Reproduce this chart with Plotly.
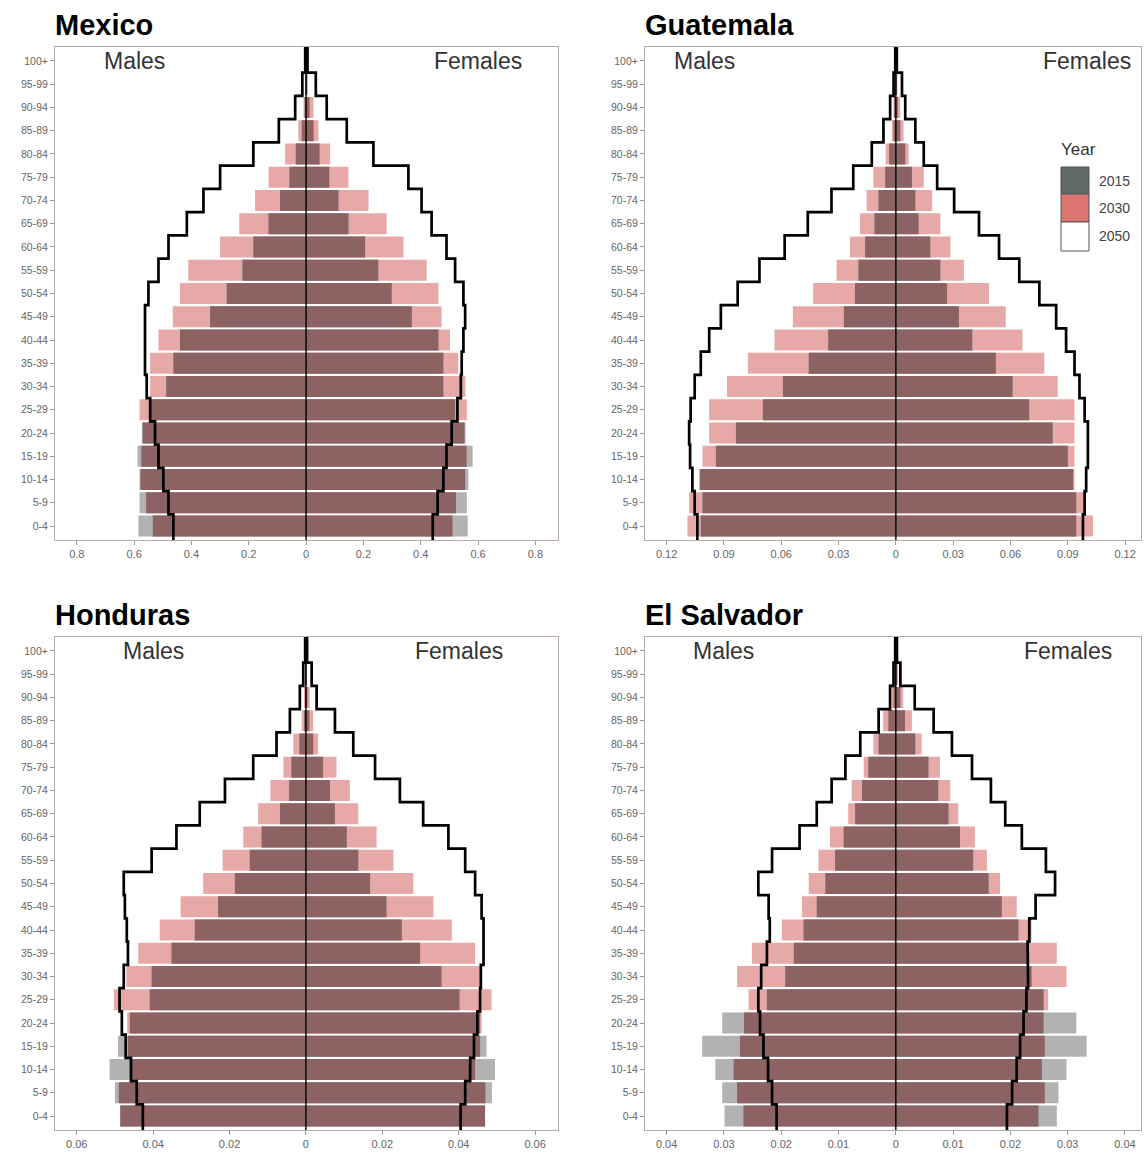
import plotly.graph_objects as go

# ---------------- data ----------------
AGE = ["0-4", "5-9", "10-14", "15-19", "20-24", "25-29", "30-34", "35-39", "40-44",
       "45-49", "50-54", "55-59", "60-64", "65-69", "70-74", "75-79", "80-84",
       "85-89", "90-94", "95-99", "100+"]

COUNTRIES = ["Mexico", "Guatemala", "Honduras", "El Salvador"]
YEARS = ["2015", "2030", "2050"]

# Mexico
MEX_M15 = [0.585, 0.581, 0.581, 0.588, 0.573, 0.547, 0.488, 0.463, 0.440, 0.335, 0.277, 0.222, 0.184, 0.131, 0.091, 0.058, 0.036, 0.015, 0.005, 0.002, 0.001]
MEX_M30 = [0.535, 0.558, 0.578, 0.575, 0.570, 0.581, 0.544, 0.544, 0.515, 0.465, 0.440, 0.411, 0.300, 0.233, 0.178, 0.131, 0.073, 0.027, 0.009, 0.004, 0.001]
MEX_M50 = [0.463, 0.480, 0.498, 0.515, 0.527, 0.544, 0.556, 0.562, 0.564, 0.562, 0.550, 0.515, 0.480, 0.416, 0.358, 0.300, 0.184, 0.095, 0.038, 0.013, 0.003]
MEX_F15 = [0.564, 0.561, 0.566, 0.581, 0.556, 0.520, 0.479, 0.479, 0.462, 0.369, 0.299, 0.252, 0.206, 0.148, 0.113, 0.081, 0.047, 0.026, 0.012, 0.002, 0.001]
MEX_F30 = [0.511, 0.523, 0.555, 0.560, 0.553, 0.561, 0.556, 0.531, 0.502, 0.473, 0.462, 0.421, 0.340, 0.281, 0.218, 0.148, 0.084, 0.043, 0.026, 0.006, 0.001]
MEX_F50 = [0.442, 0.459, 0.479, 0.490, 0.508, 0.528, 0.540, 0.543, 0.549, 0.555, 0.549, 0.520, 0.490, 0.438, 0.403, 0.357, 0.235, 0.142, 0.072, 0.034, 0.005]

# Guatemala
GTM_M15 = [0.1021, 0.1012, 0.1025, 0.0942, 0.0837, 0.0696, 0.0591, 0.0456, 0.0354, 0.0272, 0.0214, 0.0196, 0.0161, 0.0112, 0.0091, 0.0056, 0.0035, 0.0012, 0.0008, 0.0003, 0.0001]
GTM_M30 = [0.1091, 0.1082, 0.1030, 0.1012, 0.0977, 0.0977, 0.0884, 0.0775, 0.0635, 0.0539, 0.0433, 0.0310, 0.0240, 0.0188, 0.0153, 0.0118, 0.0053, 0.0021, 0.0012, 0.0004, 0.0001]
GTM_M50 = [0.1039, 0.1053, 0.1065, 0.1077, 0.1082, 0.1074, 0.1053, 0.1021, 0.0977, 0.0916, 0.0828, 0.0714, 0.0582, 0.0461, 0.0337, 0.0223, 0.0126, 0.0065, 0.0030, 0.0012, 0.0003]
GTM_F15 = [0.0944, 0.0944, 0.0928, 0.0900, 0.0821, 0.0698, 0.0611, 0.0523, 0.0400, 0.0330, 0.0268, 0.0233, 0.0180, 0.0119, 0.0102, 0.0084, 0.0049, 0.0023, 0.0010, 0.0004, 0.0001]
GTM_F30 = [0.1032, 0.0995, 0.0935, 0.0935, 0.0935, 0.0935, 0.0847, 0.0777, 0.0663, 0.0575, 0.0488, 0.0356, 0.0286, 0.0233, 0.0190, 0.0146, 0.0067, 0.0040, 0.0023, 0.0008, 0.0002]
GTM_F50 = [0.0979, 0.0988, 0.0996, 0.1005, 0.1005, 0.0988, 0.0961, 0.0935, 0.0891, 0.0839, 0.0751, 0.0646, 0.0540, 0.0435, 0.0305, 0.0216, 0.0146, 0.0102, 0.0049, 0.0032, 0.0005]

# Honduras
HND_M15 = [0.0486, 0.0500, 0.0514, 0.0492, 0.0461, 0.0409, 0.0404, 0.0352, 0.0291, 0.0230, 0.0186, 0.0147, 0.0116, 0.0068, 0.0044, 0.0038, 0.0017, 0.0005, 0.0002, 0.0001, 0.0000]
HND_M30 = [0.0486, 0.0490, 0.0461, 0.0466, 0.0468, 0.0503, 0.0470, 0.0439, 0.0383, 0.0328, 0.0269, 0.0218, 0.0164, 0.0125, 0.0093, 0.0059, 0.0033, 0.0011, 0.0005, 0.0002, 0.0001]
HND_M50 = [0.0427, 0.0443, 0.0458, 0.0472, 0.0482, 0.0488, 0.0477, 0.0466, 0.0469, 0.0474, 0.0477, 0.0404, 0.0339, 0.0278, 0.0212, 0.0138, 0.0077, 0.0042, 0.0016, 0.0007, 0.0002]
HND_F15 = [0.0469, 0.0487, 0.0495, 0.0473, 0.0456, 0.0402, 0.0355, 0.0299, 0.0251, 0.0211, 0.0168, 0.0137, 0.0107, 0.0076, 0.0063, 0.0045, 0.0019, 0.0009, 0.0004, 0.0001, 0.0000]
HND_F30 = [0.0469, 0.0470, 0.0443, 0.0456, 0.0460, 0.0486, 0.0460, 0.0443, 0.0382, 0.0334, 0.0281, 0.0229, 0.0185, 0.0137, 0.0115, 0.0080, 0.0032, 0.0019, 0.0010, 0.0003, 0.0001]
HND_F50 = [0.0405, 0.0417, 0.0430, 0.0440, 0.0449, 0.0456, 0.0458, 0.0465, 0.0465, 0.0460, 0.0443, 0.0417, 0.0373, 0.0307, 0.0246, 0.0181, 0.0124, 0.0076, 0.0028, 0.0015, 0.0003]

# El Salvador
SLV_M15 = [0.0299, 0.0303, 0.0315, 0.0338, 0.0303, 0.0225, 0.0193, 0.0178, 0.0161, 0.0138, 0.0123, 0.0106, 0.0091, 0.0071, 0.0059, 0.0048, 0.0030, 0.0013, 0.0004, 0.0001, 0.0000]
SLV_M30 = [0.0266, 0.0277, 0.0283, 0.0272, 0.0265, 0.0257, 0.0277, 0.0251, 0.0199, 0.0164, 0.0152, 0.0135, 0.0115, 0.0083, 0.0077, 0.0056, 0.0039, 0.0022, 0.0007, 0.0002, 0.0001]
SLV_M50 = [0.0208, 0.0216, 0.0223, 0.0231, 0.0237, 0.0240, 0.0235, 0.0225, 0.0220, 0.0222, 0.0240, 0.0216, 0.0168, 0.0138, 0.0112, 0.0088, 0.0062, 0.0030, 0.0010, 0.0004, 0.0001]
SLV_F15 = [0.0281, 0.0284, 0.0298, 0.0333, 0.0315, 0.0258, 0.0237, 0.0231, 0.0214, 0.0185, 0.0162, 0.0135, 0.0112, 0.0092, 0.0074, 0.0057, 0.0034, 0.0016, 0.0008, 0.0002, 0.0000]
SLV_F30 = [0.0249, 0.0260, 0.0255, 0.0260, 0.0258, 0.0266, 0.0298, 0.0281, 0.0237, 0.0211, 0.0182, 0.0159, 0.0138, 0.0109, 0.0095, 0.0077, 0.0045, 0.0028, 0.0013, 0.0004, 0.0001]
SLV_F50 = [0.0194, 0.0203, 0.0211, 0.0217, 0.0223, 0.0228, 0.0231, 0.0230, 0.0233, 0.0244, 0.0278, 0.0262, 0.0220, 0.0191, 0.0166, 0.0133, 0.0098, 0.0066, 0.0033, 0.0008, 0.0002]

# axis ticks (absolute values shown on both sides)
MEX_TICKS = [0.8, 0.6, 0.4, 0.2, 0, 0.2, 0.4, 0.6, 0.8]
GTM_TICKS = [0.12, 0.09, 0.06, 0.03, 0, 0.03, 0.06, 0.09, 0.12]
HND_TICKS = [0.06, 0.04, 0.02, 0, 0.02, 0.04, 0.06]
SLV_TICKS = [0.04, 0.03, 0.02, 0.01, 0, 0.01, 0.02, 0.03, 0.04]

# ---------------- style / layout ----------------
W, H = 1148, 1154
FONT = "Liberation Sans, Arial, Helvetica, sans-serif"
C_OVER = "#8d6262"
C_PINK = "#e6a9a7"
C_GREY = "#b2b2b2"
FRAME = "#b9a9a3"

panels = [
    dict(name=COUNTRIES[0], m=(MEX_M15, MEX_M30, MEX_M50), f=(MEX_F15, MEX_F30, MEX_F50),
         ticks=MEX_TICKS, rng=(-0.876, 0.879), lab=0.6, px=(55, 558), py=(47, 540)),
    dict(name=COUNTRIES[1], m=(GTM_M15, GTM_M30, GTM_M50), f=(GTM_F15, GTM_F30, GTM_F50),
         ticks=GTM_TICKS, rng=(-0.1313, 0.1283), lab=0.1, px=(645, 1141), py=(47, 540)),
    dict(name=COUNTRIES[2], m=(HND_M15, HND_M30, HND_M50), f=(HND_F15, HND_F30, HND_F50),
         ticks=HND_TICKS, rng=(-0.0657, 0.0660), lab=0.04, px=(55, 558), py=(637, 1130)),
    dict(name=COUNTRIES[3], m=(SLV_M15, SLV_M30, SLV_M50), f=(SLV_F15, SLV_F30, SLV_F50),
         ticks=SLV_TICKS, rng=(-0.04378, 0.0428), lab=0.03, px=(645, 1141), py=(637, 1130)),
]

idx = list(range(len(AGE)))
YR = (-0.6, 20.6)


def fmt(v):
    return "0" if v == 0 else ("%g" % v)


def step_path(vals, sign):
    xs, ys = [], []
    n = len(vals)
    for i, v in enumerate(vals):
        y0 = YR[0] if i == 0 else i - 0.5
        y1 = YR[1] if i == n - 1 else i + 0.5
        xs += [sign * v, sign * v]
        ys += [y0, y1]
    return xs, ys


fig = go.Figure()
shapes = []
annotations = []
layout_axes = {}

for k, p in enumerate(panels, start=1):
    xa = "x" if k == 1 else "x%d" % k
    ya = "y" if k == 1 else "y%d" % k
    for side, sign in (("m", -1), ("f", 1)):
        v15, v30, v50 = p[side]
        over = [min(a, b) for a, b in zip(v15, v30)]
        for vals, col in ((v30, C_PINK), (v15, C_GREY), (over, C_OVER)):
            fig.add_trace(go.Bar(
                x=[sign * v for v in vals], y=idx, orientation="h", width=0.9,
                marker=dict(color=col, line=dict(width=0)),
                xaxis=xa, yaxis=ya, hoverinfo="skip", showlegend=False))
        sx, sy = step_path(v50, sign)
        fig.add_trace(go.Scatter(
            x=sx, y=sy, mode="lines", line=dict(color="black", width=2.7),
            xaxis=xa, yaxis=ya, hoverinfo="skip", showlegend=False))

    shapes.append(dict(type="line", xref=xa, yref=ya, x0=0, x1=0, y0=YR[0], y1=YR[1],
                       line=dict(color="black", width=1.4), layer="above"))

    tv = [(-t if i < len(p["ticks"]) // 2 else t) for i, t in enumerate(p["ticks"])]
    layout_axes["xaxis" if k == 1 else "xaxis%d" % k] = dict(
        domain=[p["px"][0] / W, p["px"][1] / W], anchor=ya, range=list(p["rng"]),
        tickvals=tv, ticktext=[fmt(t) for t in p["ticks"]],
        showgrid=False, zeroline=False, showline=True, mirror=True,
        linecolor=FRAME, linewidth=1, ticks="outside", ticklen=4, tickcolor="#999",
        tickfont=dict(size=11, color="#666", family=FONT), fixedrange=True)
    layout_axes["yaxis" if k == 1 else "yaxis%d" % k] = dict(
        domain=[1 - p["py"][1] / H, 1 - p["py"][0] / H], anchor=xa, range=list(YR),
        tickvals=idx, ticktext=AGE,
        showgrid=False, zeroline=False, showline=True, mirror=True,
        linecolor=FRAME, linewidth=1, ticks="outside", ticklen=4, tickcolor="#999",
        tickfont=dict(size=10.5, color="#666", family=FONT), fixedrange=True)

    # country title
    annotations.append(dict(
        text="<b>%s</b>" % p["name"], xref="paper", yref="paper",
        x=(p["px"][0] - 2) / W, y=1 - (p["py"][0] - 22) / H,
        xanchor="left", yanchor="middle", showarrow=False,
        font=dict(size=29, color="black", family=FONT)))
    # Males / Females
    for txt, sx in (("Males", -p["lab"]), ("Females", p["lab"])):
        annotations.append(dict(
            text=txt, xref=xa, yref=ya, x=sx, y=20, xanchor="center", yanchor="middle",
            showarrow=False, font=dict(size=23, color="#333", family=FONT)))

# legend (Year) inside the Guatemala panel
annotations.append(dict(text="Year", xref="paper", yref="paper",
                        x=1059 / W, y=1 - 149 / H, xanchor="left", yanchor="middle",
                        showarrow=False, font=dict(size=17, color="#333", family=FONT)))
key_cols = ["#616a66", "#dc7571", "#ffffff"]
key_y = [(167, 194), (194, 222), (222, 251)]
for yr, col, (y0, y1) in zip(YEARS, key_cols, key_y):
    shapes.append(dict(type="rect", xref="paper", yref="paper",
                       x0=1061 / W, x1=1089 / W, y0=1 - y1 / H, y1=1 - y0 / H,
                       fillcolor=col, line=dict(color="#555", width=1), layer="above"))
    annotations.append(dict(text=yr, xref="paper", yref="paper",
                            x=1097 / W, y=1 - ((y0 + y1) / 2) / H,
                            xanchor="left", yanchor="middle", showarrow=False,
                            font=dict(size=14, color="#444", family=FONT)))

fig.update_layout(
    width=W, height=H, margin=dict(l=0, r=0, t=0, b=0, pad=0),
    paper_bgcolor="white", plot_bgcolor="white",
    barmode="overlay", showlegend=False,
    font=dict(family=FONT), shapes=shapes, annotations=annotations,
    **layout_axes)

fig.write_html("out.html")
